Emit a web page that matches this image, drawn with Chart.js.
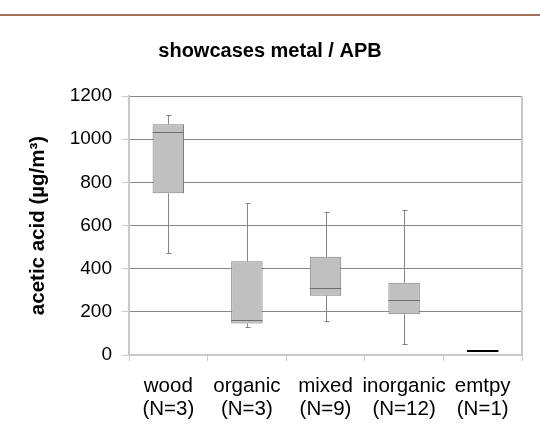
<!DOCTYPE html>
<html lang="en">
<head>
    <meta charset="UTF-8">
    <title>showcases metal / APB</title>
    <script src="https://cdn.jsdelivr.net/npm/chart.js@4.4.1/dist/chart.umd.min.js"></script>
    <style>
        body {
            margin: 0;
            background-color: #FFFFFF;
        }
        #wrap {
            width: 540px;
            height: 430px;
        }
    </style>
</head>
<body>
    <div id="wrap"><canvas id="boxChart" width="540" height="430"></canvas></div>

    <script>
        // values
        const categories = [
            ['wood', '(N=3)'],
            ['organic', '(N=3)'],
            ['mixed', '(N=9)'],
            ['inorganic', '(N=12)'],
            ['emtpy', '(N=1)']
        ];
        const whiskerMin = [471, 132, 156, 50, 19];
        const quartile1 = [749, 146, 275, 189, 19];
        const medians = [1031, 160, 309, 255, 19];
        const quartile3 = [1069, 434, 455, 335, 19];
        const whiskerMax = [1112, 703, 661, 670, 19];
        const yTicks = [0, 200, 400, 600, 800, 1000, 1200];

        const fontFamily = '"Liberation Sans", Arial, sans-serif';
        const lightLine = '#c9c9c9';
        const gridLine = '#878787';

        // whiskers, medians and single-sample lines, placed with the chart's scales
        const boxExtras = {
            id: 'boxExtras',
            beforeDatasetsDraw(chart) {
                const ctx = chart.ctx;
                const x = chart.scales.x;
                const y = chart.scales.y;
                ctx.save();
                ctx.strokeStyle = '#858585';
                ctx.lineWidth = 1;
                categories.forEach((c, i) => {
                    if (quartile1[i] === quartile3[i]) return;
                    const cx = Math.round(x.getPixelForValue(i)) + 0.5;
                    const top = Math.round(y.getPixelForValue(whiskerMax[i])) + 0.5;
                    const bot = Math.round(y.getPixelForValue(whiskerMin[i])) + 0.5;
                    ctx.beginPath();
                    ctx.moveTo(cx, top);
                    ctx.lineTo(cx, y.getPixelForValue(quartile3[i]));
                    ctx.moveTo(cx, y.getPixelForValue(quartile1[i]));
                    ctx.lineTo(cx, bot);
                    ctx.moveTo(cx - 2, top);
                    ctx.lineTo(cx + 3, top);
                    ctx.moveTo(cx - 2, bot);
                    ctx.lineTo(cx + 3, bot);
                    ctx.stroke();
                });
                ctx.restore();
            },
            afterDatasetsDraw(chart) {
                const ctx = chart.ctx;
                const x = chart.scales.x;
                const y = chart.scales.y;
                const meta = chart.getDatasetMeta(0);
                ctx.save();
                categories.forEach((c, i) => {
                    const half = meta.data[0].width / 2;
                    const cx = x.getPixelForValue(i);
                    const my = Math.round(y.getPixelForValue(medians[i])) + 0.5;
                    ctx.beginPath();
                    if (quartile1[i] === quartile3[i]) {
                        ctx.strokeStyle = '#000000';
                        ctx.lineWidth = 2;
                        ctx.moveTo(cx - half, Math.round(y.getPixelForValue(medians[i])));
                        ctx.lineTo(cx + half, Math.round(y.getPixelForValue(medians[i])));
                    } else {
                        ctx.strokeStyle = '#6e6e6e';
                        ctx.lineWidth = 1;
                        ctx.moveTo(cx - half, my);
                        ctx.lineTo(cx + half, my);
                    }
                    ctx.stroke();
                });
                // right frame line
                const area = chart.chartArea;
                ctx.strokeStyle = lightLine;
                ctx.lineWidth = 2;
                ctx.beginPath();
                ctx.moveTo(area.right, area.top);
                ctx.lineTo(area.right, area.bottom + 1);
                ctx.stroke();
                ctx.restore();
            },
            afterDraw(chart) {
                // brown rule across the top of the page
                const ctx = chart.ctx;
                ctx.save();
                ctx.fillStyle = '#a0715c';
                ctx.fillRect(0, 14, chart.width, 2);
                ctx.restore();
            }
        };

        const config = {
            type: 'bar',
            data: {
                labels: categories,
                datasets: [{
                    label: 'interquartile range',
                    data: categories.map((c, i) => quartile1[i] === quartile3[i] ? null : [quartile1[i], quartile3[i]]),
                    backgroundColor: '#c0c0c0',
                    borderColor: '#7e7e7e',
                    borderWidth: 1,
                    borderSkipped: false,
                    categoryPercentage: 1,
                    barPercentage: 0.4
                }]
            },
            options: {
                responsive: false,
                animation: false,
                layout: { padding: 0 },
                scales: {
                    x: {
                        afterFit: (scale) => { scale.height = 75; },
                        grid: {
                            offset: true,
                            drawOnChartArea: false,
                            drawTicks: true,
                            tickLength: 6,
                            tickColor: lightLine
                        },
                        border: { color: lightLine, width: 2 },
                        ticks: {
                            color: '#000000',
                            padding: 14,
                            maxRotation: 0,
                            autoSkip: false,
                            font: { family: fontFamily, size: 20.5, lineHeight: 1.12 }
                        }
                    },
                    y: {
                        min: 0,
                        max: 1200,
                        afterFit: (scale) => { scale.width = 129; },
                        afterBuildTicks: (scale) => { scale.ticks = yTicks.map(v => ({ value: v })); },
                        grid: {
                            color: (c) => c.tick && c.tick.value === 0 ? lightLine : gridLine,
                            tickColor: lightLine,
                            tickLength: 7
                        },
                        border: { color: lightLine, width: 2 },
                        ticks: {
                            color: '#000000',
                            padding: 10,
                            callback: (v) => String(v),
                            font: { family: fontFamily, size: 19 }
                        },
                        title: {
                            display: true,
                            text: 'acetic acid (µg/m³)',
                            color: '#000000',
                            padding: { top: 26, bottom: 0 },
                            font: { family: fontFamily, size: 20.5, weight: 'bold' }
                        }
                    },
                    // empty right margin so the title centres on the page
                    margin: {
                        type: 'linear',
                        position: 'right',
                        afterFit: (scale) => { scale.width = 18; },
                        grid: { display: false },
                        border: { display: false },
                        ticks: { display: false }
                    }
                },
                plugins: {
                    legend: { display: false },
                    tooltip: { enabled: false },
                    title: {
                        display: true,
                        text: 'showcases metal / APB',
                        color: '#000000',
                        padding: { top: 39, bottom: 33 },
                        font: { family: fontFamily, size: 20, weight: 'bold' }
                    }
                }
            },
            plugins: [boxExtras]
        };

        const chart = new Chart(document.getElementById('boxChart').getContext('2d'), config);
    </script>
</body>
</html>
